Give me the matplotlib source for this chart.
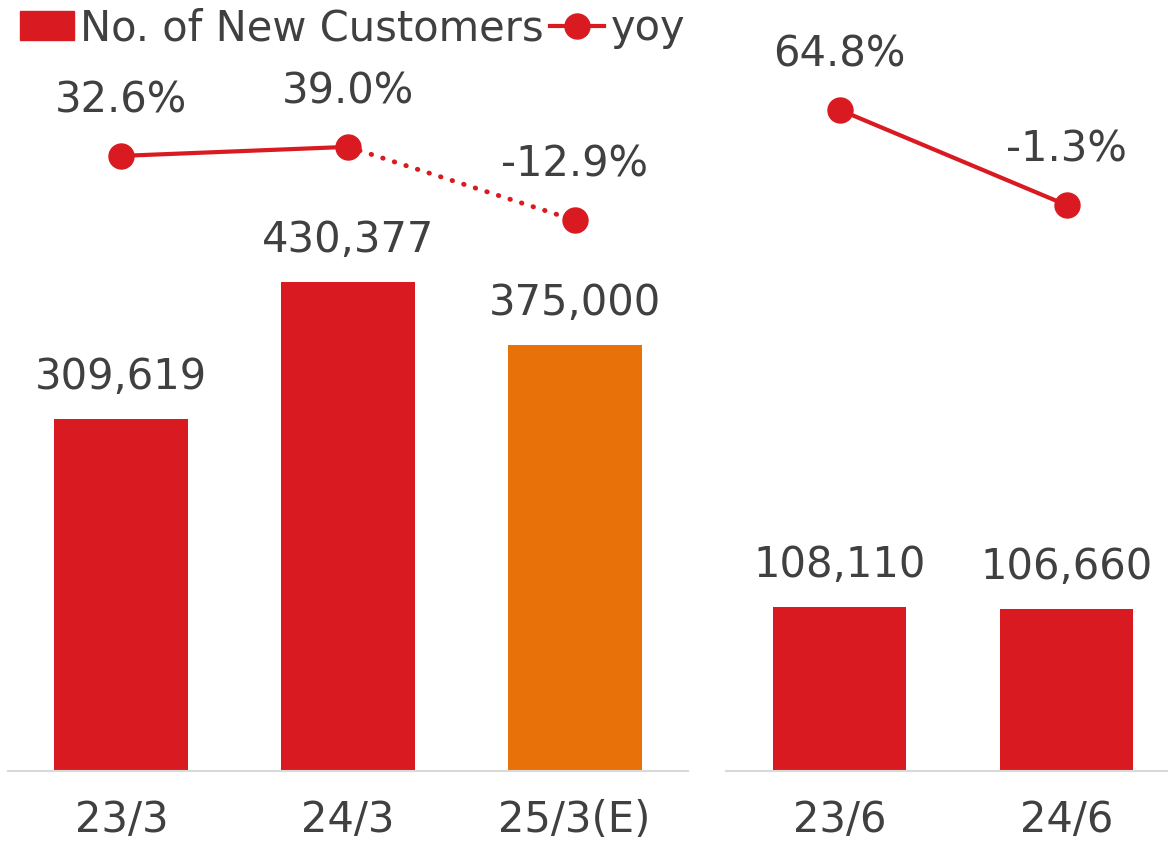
import numpy as np
import matplotlib.pyplot as plt
from matplotlib.patches import Patch
from matplotlib.lines import Line2D

# data
annual_labels = ['23/3', '24/3', '25/3(E)']
annual_customers = [309619, 430377, 375000]
annual_yoy = [32.6, 39.0, -12.9]

quarter_labels = ['23/6', '24/6']
quarter_customers = [108110, 106660]
quarter_yoy = [64.8, -1.3]

RED = '#D91A21'
ORANGE = '#E8710A'
GREY = '#404040'
BASE = '#D9D9D9'
FS = 30

plt.rcParams['font.family'] = 'DejaVu Sans'

W, H = 1168, 843
fig = plt.figure(figsize=(W / 100, H / 100), dpi=100)

base_y = 771


def make_axes(x0, x1, ymax, y2lim):
    ax = fig.add_axes([x0 / W, (H - base_y) / H, (x1 - x0) / W, base_y / H])
    ax.set_ylim(0, ymax)
    for s in ['top', 'right', 'left']:
        ax.spines[s].set_visible(False)
    ax.spines['bottom'].set_color(BASE)
    ax.spines['bottom'].set_linewidth(1.5)
    ax.set_yticks([])
    ax.tick_params(axis='x', length=0, labelsize=FS, labelcolor=GREY, pad=20)
    ax2 = ax.twinx()
    ax2.set_ylim(*y2lim)
    ax2.axis('off')
    return ax, ax2


def bar_labels(ax, xs, vals):
    for x, v in zip(xs, vals):
        ax.annotate(f'{v:,}', (x, v), xytext=(0, 15), textcoords='offset points',
                    ha='center', va='bottom', fontsize=FS, color=GREY)


def yoy_labels(ax2, xs, vals):
    for x, v in zip(xs, vals):
        ax2.annotate(f'{v:.1f}%', (x, v), xytext=(0, 40), textcoords='offset points',
                     ha='center', va='center', fontsize=FS, color=GREY)


# left panel: fiscal years
ax, ax2 = make_axes(8, 688, 678000, (-403, 143))
x = np.arange(len(annual_labels))
ax.bar(x, annual_customers, width=0.59, color=[RED, RED, ORANGE])
ax.set_xlim(-0.5, 2.5)
ax.set_xticks(x)
ax.set_xticklabels(annual_labels)
bar_labels(ax, x, annual_customers)
ax2.plot(x[:2], annual_yoy[:2], color=RED, lw=3, solid_capstyle='round')
ax2.plot(x[1:], annual_yoy[1:], color=RED, lw=3.5, linestyle=(0, (0.1, 2.4)),
         dash_capstyle='round')
ax2.plot(x, annual_yoy, 'o', color=RED, markersize=18)
yoy_labels(ax2, x, annual_yoy)

# right panel: first quarter
axr, axr2 = make_axes(726, 1180, 508000, (-394, 141))
xq = np.arange(len(quarter_labels))
axr.bar(xq, quarter_customers, width=0.59, color=RED)
axr.set_xlim(-0.5, 1.5)
axr.set_xticks(xq)
axr.set_xticklabels(quarter_labels)
bar_labels(axr, xq, quarter_customers)
axr2.plot(xq, quarter_yoy, '-o', color=RED, lw=3, markersize=18)
yoy_labels(axr2, xq, quarter_yoy)

handles = [Patch(color=RED),
           Line2D([0], [0], color=RED, lw=3, marker='o', markersize=18)]
fig.legend(handles, ['No. of New Customers', 'yoy'], loc='upper left',
           bbox_to_anchor=(-0.015, 1.036), ncol=2, frameon=False, fontsize=FS,
           labelcolor=GREY, handlelength=1.3, handletextpad=0.15,
           columnspacing=0.15, handleheight=0.7)

fig.savefig('out.png', dpi=100)
